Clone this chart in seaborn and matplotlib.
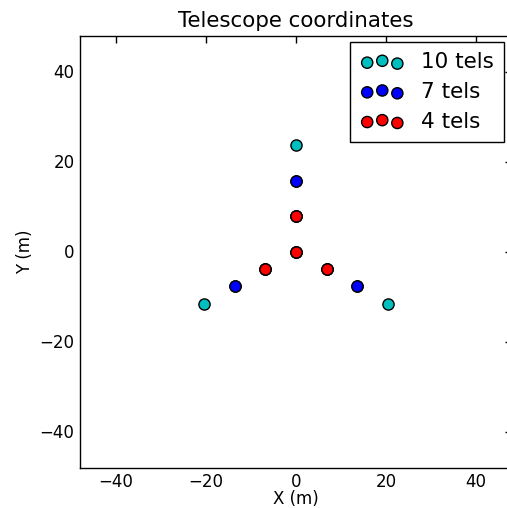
import numpy as np
import pandas as pd
import matplotlib
matplotlib.use('Agg')
import matplotlib.pyplot as plt
import seaborn as sns

sns.set_style('white')
plt.rcParams['font.family'] = ['DejaVu Sans']
plt.rcParams['text.color'] = 'black'
plt.rcParams['axes.labelcolor'] = 'black'

# telescope positions (m)
labels = ['10 tels', '7 tels', '4 tels']
x10 = [0, 0, -6.9, 6.9, 0, -13.6, 13.6, 0, -20.4, 20.4]
y10 = [0, 7.9, -3.9, -3.9, 15.7, -7.7, -7.7, 23.6, -11.6, -11.6]
x7 = [0, 0, -6.9, 6.9, 0, -13.6, 13.6]
y7 = [0, 7.9, -3.9, -3.9, 15.7, -7.7, -7.7]
x4 = [0, 0, -6.9, 6.9]
y4 = [0, 7.9, -3.9, -3.9]
colors = [(0, 0.75, 0.75), 'blue', 'red']

fig = plt.figure(figsize=(5.07, 5.08), dpi=100)
ax = fig.add_axes([80 / 507, 40.5 / 508, 432 / 507, 432 / 508])

for lab, xs, ys, col in zip(labels, [x10, x7, x4], [y10, y7, y4], colors):
    df = pd.DataFrame({'x': xs, 'y': ys})
    sns.scatterplot(data=df, x='x', y='y', ax=ax, color=col, s=65,
                    edgecolor='black', linewidth=1, label=lab, legend=False)

ax.set_xlim(-48, 48)
ax.set_ylim(-48, 48)
ax.set_xticks([-40, -20, 0, 20, 40])
ax.set_yticks([-40, -20, 0, 20, 40])
ax.tick_params(direction='in', top=True, right=True, length=5, width=1,
               labelsize=12, colors='black', pad=4)
for sp in ax.spines.values():
    sp.set_color('black')
    sp.set_linewidth(1)
ax.set_xlabel('X (m)', fontsize=12, labelpad=-1)
ax.set_ylabel('Y (m)', fontsize=12)
ax.set_title('Telescope coordinates', fontsize=15.4, pad=6, color='black')

leg = ax.legend(loc='upper right', bbox_to_anchor=(0.982, 0.985),
                scatterpoints=3, fontsize=15.5, frameon=True, fancybox=False,
                borderaxespad=0, handlelength=2.0, handletextpad=0.8,
                labelspacing=0.45, borderpad=0.48)
leg.get_frame().set_edgecolor('black')
leg.get_frame().set_linewidth(1)
leg.get_frame().set_alpha(1)

fig.savefig('out.png', dpi=100)
